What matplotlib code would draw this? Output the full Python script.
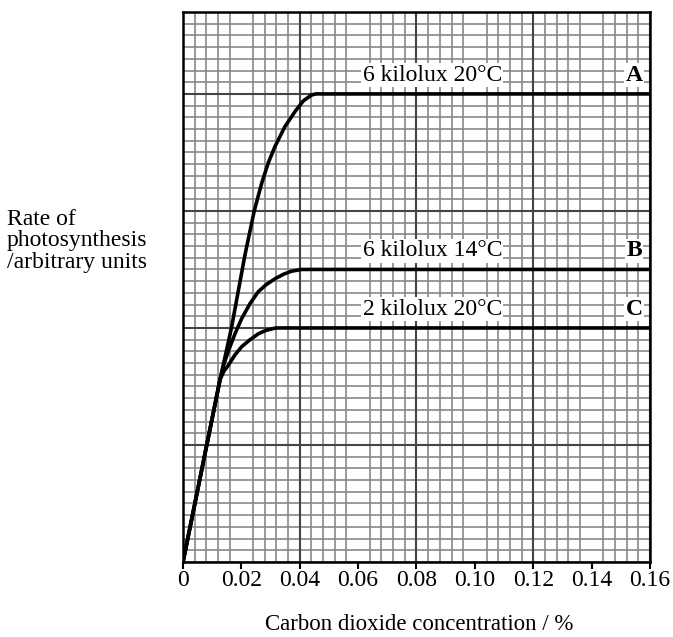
import matplotlib
matplotlib.use("Agg")
import matplotlib.pyplot as plt
import numpy as np
from matplotlib.ticker import MultipleLocator

# curves (x = CO2 %, y = grid squares)
a_x = [0, 0.0127, 0.0166, 0.0212, 0.0244, 0.0270, 0.0292, 0.0315, 0.0349, 0.0384, 0.0412, 0.0440, 0.0455, 0.16]
a_y = [0, 15.6, 20.0, 26.2, 30.0, 32.4, 34.1, 35.5, 37.2, 38.5, 39.4, 39.9, 40.0, 40.0]
b_x = [0, 0.0127, 0.0140, 0.0155, 0.0178, 0.0201, 0.0230, 0.0258, 0.0285, 0.0315, 0.0345, 0.0372, 0.0406, 0.16]
b_y = [0, 15.6, 16.9, 18.0, 19.5, 20.8, 22.1, 23.1, 23.7, 24.2, 24.6, 24.85, 25.0, 25.0]
c_x = [0, 0.0127, 0.0140, 0.0155, 0.0178, 0.0201, 0.0230, 0.0258, 0.0285, 0.0318, 0.16]
c_y = [0, 15.6, 16.3, 16.8, 17.7, 18.4, 19.0, 19.5, 19.8, 20.0, 20.0]

curve_labels = ["6 kilolux 20°C", "6 kilolux 14°C", "2 kilolux 20°C"]
curve_letters = ["A", "B", "C"]
label_y = [41.6, 26.6, 21.6]

xticks = [0, 0.02, 0.04, 0.06, 0.08, 0.10, 0.12, 0.14, 0.16]
xticklabels = ["0", "0.02", "0.04", "0.06", "0.08", "0.10", "0.12", "0.14", "0.16"]

plt.rcParams['font.family'] = ['Liberation Serif', 'DejaVu Serif']

fig = plt.figure(figsize=(6.73, 6.37), dpi=100)
ax = fig.add_axes([183 / 673, 75 / 637, 467 / 673, 550 / 637])

ax.set_xlim(0, 0.16)
ax.set_ylim(0, 47)

# graph paper
ax.xaxis.set_minor_locator(MultipleLocator(0.004))
ax.yaxis.set_minor_locator(MultipleLocator(1))
ax.yaxis.set_major_locator(MultipleLocator(10))
ax.grid(which='minor', color='#888888', lw=1.2, zorder=0)
ax.set_axisbelow(True)
for v in np.arange(0.04, 0.161, 0.04):
    ax.axvline(v, color='#444444', lw=1.5, zorder=1)
for v in range(10, 47, 10):
    ax.axhline(v, color='#444444', lw=1.5, zorder=1)

for xs, ys in [(a_x, a_y), (b_x, b_y), (c_x, c_y)]:
    ax.plot(xs, ys, color='black', lw=2.6, solid_capstyle='round',
            solid_joinstyle='round', zorder=3)

for lab, let, y in zip(curve_labels, curve_letters, label_y):
    ax.text(0.0615, y, lab, fontsize=17, ha='left', va='center', zorder=4,
            bbox=dict(facecolor='white', edgecolor='none', pad=1.0))
    ax.text(0.1545, y, let, fontsize=17, fontweight='bold', ha='center',
            va='center', zorder=4,
            bbox=dict(facecolor='white', edgecolor='none', pad=1.0))

ax.set_xticks(xticks)
ax.set_xticklabels(xticklabels, fontsize=17)
ax.set_yticks([])
ax.tick_params(axis='x', which='major', length=5, width=1.5, pad=1, direction='out')
ax.tick_params(axis='x', which='minor', length=0)
ax.tick_params(axis='y', which='both', length=0)

for s in ax.spines.values():
    s.set_color('black')
    s.set_linewidth(1.8)
    s.set_zorder(5)

fig.text(419 / 673, 1 - 625 / 637, "Carbon dioxide concentration / %",
         fontsize=16.5, ha='center', va='center')
fig.text(7 / 673, 1 - 241 / 637, "Rate of\nphotosynthesis\n/arbitrary units",
         fontsize=17, ha='left', va='center', linespacing=1.05)

fig.savefig("out.png", dpi=100)
